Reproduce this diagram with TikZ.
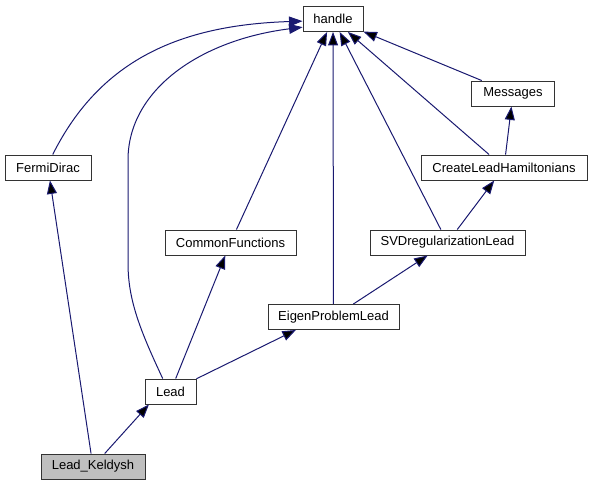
\documentclass[tikz,border=0pt]{standalone}
\usepackage{fontspec}
\setmainfont{Liberation Sans}
\usetikzlibrary{arrows.meta}
\definecolor{edgeblue}{RGB}{25,25,112}
\definecolor{leafgray}{RGB}{191,191,191}

\begin{document}
\begin{tikzpicture}[x=1pt,y=-1pt,
	cls/.style={shape=rectangle,draw=black!80,line width=0.9pt,fill=white,inner sep=0pt,minimum height=25pt,font=\fontsize{13}{15}\selectfont},
	inh/.style={draw=edgeblue,line width=1pt,-{Triangle[length=13.5pt,width=10pt]}}]
	\useasboundingbox (0,0) rectangle (592,485);

	\node[cls,minimum width=60pt] (handle) at (333,19)    {handle};
	\node[cls,minimum width=83pt] (msgs) at (513,93.5)    {Messages};
	\node[cls,minimum width=166pt] (create) at (504,167.5) {CreateLeadHamiltonians};
	\node[cls,minimum width=86pt] (fermi) at (48,167.5)   {FermiDirac};
	\node[cls,minimum width=131pt] (common) at (230.5,242.5) {CommonFunctions};
	\node[cls,minimum width=155pt] (svd) at (447.5,242.5)  {SVDregularizationLead};
	\node[cls,minimum width=131pt] (eigen) at (333.5,317)  {EigenProblemLead};
	\node[cls,minimum width=51pt] (lead) at (170.5,391.5)  {Lead};
	\node[cls,minimum width=104pt,fill=leafgray] (keldysh) at (93,466.5) {Lead\_Keldysh};

	\path[inh] (msgs) edge (handle);
	\path[inh] (create) edge (handle);
	\path[inh] (create) edge (msgs);
	\path[inh] (svd) edge (handle);
	\path[inh] (svd) edge (create);
	\path[inh] (eigen) edge (handle);
	\path[inh] (eigen) edge (svd);
	\path[inh] (common) edge (handle);
	\path[inh] (lead) edge (common);
	\path[inh] (lead) edge (eigen.199);
	\path[inh] (keldysh) edge (lead.211);
	\path[inh] (keldysh) edge (fermi);
	\draw[inh] (fermi.70) .. controls (100,60) and (180,25) .. (handle.184);
	\draw[inh] (lead.121) .. controls (140,330) and (128,300) .. (128,263)
		-- (128,160) .. controls (128,90) and (200,40) .. (handle.195);
\end{tikzpicture}
\end{document}
